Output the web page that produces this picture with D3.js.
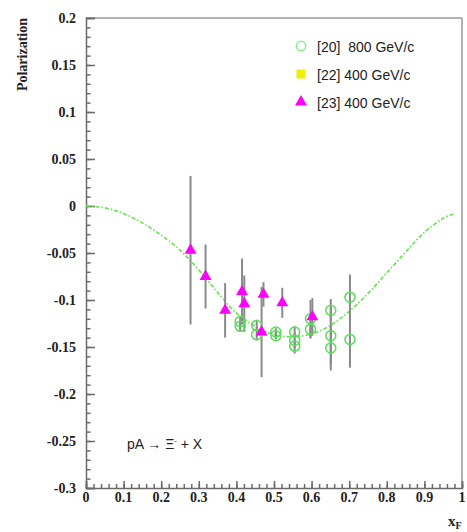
<!DOCTYPE html>
<html><head><meta charset="utf-8">
<script src="https://cdn.jsdelivr.net/npm/d3@7"></script>
<style>body{margin:0;background:#fff}svg{display:block}</style>
</head><body>
<svg id="chart" width="467" height="532"></svg>
<script>
// ---- data ----
const curveX = [0,0.05,0.10,0.15,0.20,0.25,0.30,0.35,0.40,0.45,0.50,0.55,0.60,0.65,0.70,0.75,0.80,0.85,0.90,0.95,0.98];
const curveP = [0,-0.002,-0.008,-0.018,-0.031,-0.047,-0.068,-0.092,-0.114,-0.128,-0.137,-0.139,-0.136,-0.127,-0.112,-0.093,-0.071,-0.049,-0.028,-0.013,-0.008];

const s20x   = [0.410,0.410,0.454,0.454,0.505,0.505,0.555,0.555,0.555,0.597,0.597,0.651,0.651,0.651,0.702,0.702];
const s20P   = [-0.123,-0.128,-0.127,-0.137,-0.134,-0.138,-0.134,-0.143,-0.149,-0.120,-0.131,-0.111,-0.138,-0.151,-0.097,-0.142];
const s20err = [0.006,0.006,0.006,0.006,0.004,0.004,0.006,0.008,0.008,0.020,0.010,0.012,0.030,0.024,0.024,0.030];

const s23x   = [0.278,0.318,0.370,0.415,0.421,0.467,0.472,0.522,0.602];
const s23P   = [-0.047,-0.075,-0.111,-0.091,-0.104,-0.134,-0.094,-0.103,-0.118];
const s23err = [0.079,0.034,0.029,0.035,0.030,0.048,0.013,0.016,0.020];

const yTicks = [0.2,0.15,0.1,0.05,0,-0.05,-0.1,-0.15,-0.2,-0.25,-0.3];
const xTicks = [0,0.1,0.2,0.3,0.4,0.5,0.6,0.7,0.8,0.9,1];
const legendLabels = ["[20]  800 GeV/c","[22] 400 GeV/c","[23] 400 GeV/c"];

// ---- layout ----
const L=86, R=462, T=18, B=488;
const svg = d3.select("#chart");
const x = d3.scaleLinear().domain([0,1]).range([L,R]);
const y = d3.scaleLinear().domain([-0.3,0.2]).range([B,T]);
const axisCol = "#6a6a6a";
const serif = "'Liberation Serif','DejaVu Serif',serif";
const sans = "'Liberation Sans',Arial,sans-serif";

// frame (top & right)
svg.append("line").attr("x1",L).attr("x2",R).attr("y1",T).attr("y2",T).attr("stroke","#999").attr("stroke-width",1.5);
svg.append("line").attr("x1",R).attr("x2",R).attr("y1",T).attr("y2",B).attr("stroke","#999").attr("stroke-width",1.5);

// left axis
const yAxis = d3.axisRight(y).tickValues(yTicks).tickSize(9).tickFormat("");
const yMinor = d3.axisRight(y).tickValues(d3.range(-30,21).map(d=>d/100)).tickSize(4.5).tickFormat("");
const gyM = svg.append("g").attr("transform",`translate(${L},0)`).call(yMinor);
const gy = svg.append("g").attr("transform",`translate(${L},0)`).call(yAxis);
[gy,gyM].forEach(g=>{g.selectAll("path,line").attr("stroke",axisCol).attr("stroke-width",1.5);});
gyM.select("path").remove();

// bottom axis
const xAxis = d3.axisTop(x).tickValues(xTicks).tickSize(7).tickFormat("");
const xMinor = d3.axisTop(x).tickValues(d3.range(0,51).map(d=>d/50)).tickSize(4).tickFormat("");
const gxM = svg.append("g").attr("transform",`translate(0,${B})`).call(xMinor);
const gx = svg.append("g").attr("transform",`translate(0,${B})`).call(xAxis);
[gx,gxM].forEach(g=>{g.selectAll("path,line").attr("stroke",axisCol).attr("stroke-width",1.5);});
gxM.select("path").remove();

// tick labels
svg.append("g").selectAll("text").data(yTicks).join("text")
  .attr("x",76).attr("y",d=>y(d)+5).attr("text-anchor","end")
  .attr("font-family",serif).attr("font-weight","bold").attr("font-size",14).attr("fill","#222")
  .text(d=>String(d));
svg.append("g").selectAll("text").data(xTicks).join("text")
  .attr("x",d=>x(d)).attr("y",502).attr("text-anchor","middle")
  .attr("font-family",serif).attr("font-weight","bold").attr("font-size",14).attr("fill","#222")
  .text(d=>String(d));

// axis titles
svg.append("text").attr("transform","translate(27,18) rotate(-90)").attr("text-anchor","end")
  .attr("font-family",serif).attr("font-weight","bold").attr("font-size",14).attr("fill","#222").text("Polarization");
const xt = svg.append("text").attr("x",448).attr("y",526).attr("font-family",serif).attr("font-weight","bold").attr("font-size",15).attr("fill","#222");
xt.append("tspan").text("x");
xt.append("tspan").attr("font-size",10).attr("dy",3).text("F");

// curve
const line = d3.line().x(d=>x(d[0])).y(d=>y(d[1])).curve(d3.curveCatmullRom);
svg.append("path").datum(curveX.map((v,i)=>[v,curveP[i]]))
  .attr("d",line).attr("fill","none").attr("stroke","#66e64a").attr("stroke-width",1.6)
  .attr("stroke-dasharray","4,2,1.5,2");

// error bars
const errCol = "#8a8a8a";
function bars(xs,ps,es){
  svg.append("g").selectAll("line").data(xs.map((v,i)=>[v,ps[i],es[i]])).join("line")
    .attr("x1",d=>x(d[0])).attr("x2",d=>x(d[0]))
    .attr("y1",d=>y(d[1]+d[2])).attr("y2",d=>y(d[1]-d[2]))
    .attr("stroke",errCol).attr("stroke-width",2);
}
bars(s20x,s20P,s20err);
bars(s23x,s23P,s23err);

// circles
svg.append("g").selectAll("circle").data(s20x.map((v,i)=>[v,s20P[i]])).join("circle")
  .attr("cx",d=>x(d[0])).attr("cy",d=>y(d[1])).attr("r",5)
  .attr("fill","none").attr("stroke","#55e055").attr("stroke-width",1.5);

// triangles
const tri = d3.symbol().type(d3.symbolTriangle).size(62);
svg.append("g").selectAll("path").data(s23x.map((v,i)=>[v,s23P[i]])).join("path")
  .attr("d",tri).attr("transform",d=>`translate(${x(d[0])},${y(d[1])})`).attr("fill","#ff00ff");

// legend
const lg = svg.append("g");
lg.append("circle").attr("cx",301).attr("cy",46).attr("r",4.7).attr("fill","none").attr("stroke","#88ee88").attr("stroke-width",1.5);
lg.append("rect").attr("x",296.5).attr("y",69.5).attr("width",9).attr("height",9).attr("fill","#f0f000");
lg.append("path").attr("d",tri).attr("transform","translate(301,102)").attr("fill","#ff00ff");
lg.selectAll("text").data(legendLabels).join("text")
  .attr("x",317).attr("y",(d,i)=>52+i*28).attr("font-family",sans).attr("font-size",14).attr("fill","#222")
  .attr("xml:space","preserve").style("white-space","pre").text(d=>d);

// annotation
svg.append("text").attr("x",127).attr("y",449).attr("font-family",sans).attr("font-size",14).attr("fill","#222")
  .html("pA \u2192 \u039E<tspan dy='-6' font-size='8'>-</tspan><tspan dy='6'> + X</tspan>");
</script>
</body></html>
